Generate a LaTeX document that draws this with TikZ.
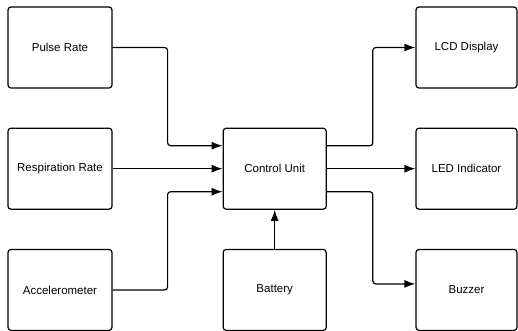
\documentclass[tikz,border=0pt]{standalone}
\usepackage{fontspec}
\setmainfont{Liberation Sans}
\usetikzlibrary{arrows.meta,positioning}

\tikzset{
  block/.style={draw, line width=1.2pt, rounded corners=3pt, minimum width=104pt,
    minimum height=81pt, font=\fontsize{11.5}{14}\selectfont},
  link/.style={->, line width=1.2pt, rounded corners=3pt}
}

\begin{document}
\begin{tikzpicture}[x=1pt, y=1pt, node distance=39pt and 110pt, >={Latex[length=11pt,width=8pt]}]
    \useasboundingbox (0,0) rectangle (518,-330);
    \node[block] (pulse) at (60,-47.5) {Pulse Rate};
    \node[block] (resp) [below=of pulse] {Respiration Rate};
    \node[block] (accel) [below=of resp] {Accelerometer};
    \node[block, minimum width=103pt] (ctrl) [right=of resp] {Control Unit};
    \node[block, minimum width=103pt] (batt) [below=of ctrl] {Battery};
    \node[block, minimum width=101pt] (lcd) at (466.5,-47.5) {LCD Display};
    \node[block, minimum width=101pt] (led) [below=of lcd] {LED Indicator};
    \node[block, minimum width=101pt] (buzz) [below=of led] {Buzzer};
    % inputs
    \draw[link] (pulse.east) -- ++(55,0) |- ([yshift=23pt]ctrl.west);
    \draw[link] (resp.east) -- (ctrl.west);
    \draw[link] (accel.east) -- ++(55,0) |- ([yshift=-23pt]ctrl.west);
    \draw[link] (batt.north) -- (ctrl.south);
    % outputs
    \draw[link] ([yshift=23pt]ctrl.east) -- ++(46,0) |- (lcd.west);
    \draw[link] (ctrl.east) -- (led.west);
    \draw[link] ([yshift=-23pt]ctrl.east) -- ++(46,0) |- ([yshift=6pt]buzz.west);
\end{tikzpicture}
\end{document}
